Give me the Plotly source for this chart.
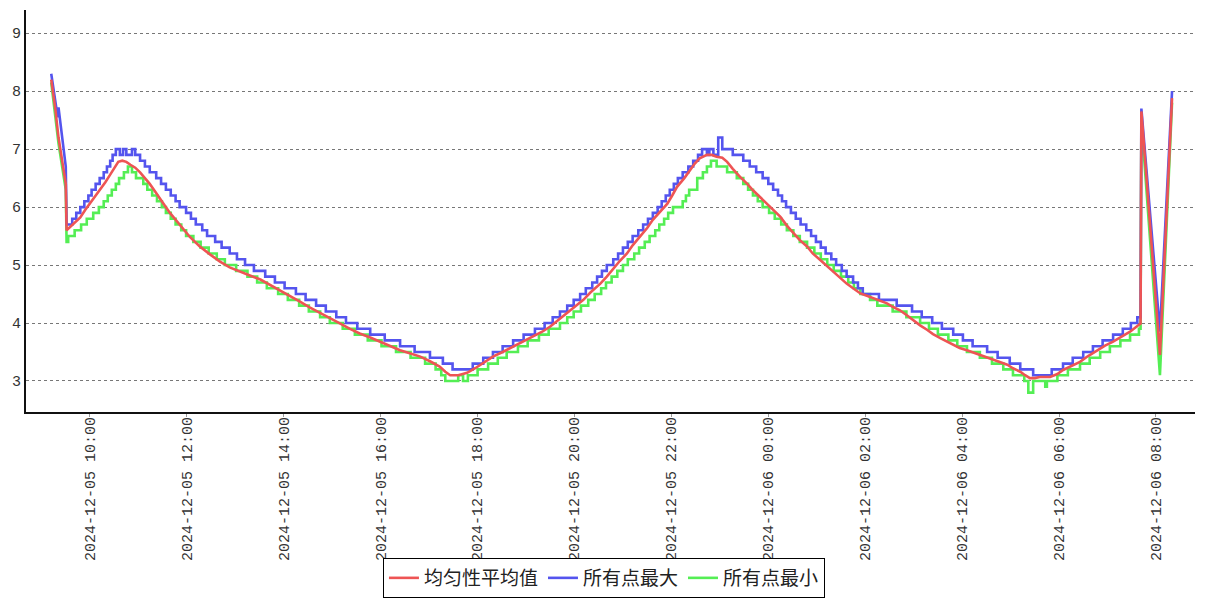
import pandas as pd
import plotly.graph_objects as go

BASE = pd.Timestamp("2024-12-05 10:00")  # minute offsets below are relative to this time

# ---------------- 所有点最大 (blue) ----------------
blue_head_t = [-48, -43, -40, -39, -32, -30]
blue_head_v = [8.3, 7.85, 7.55, 7.72, 6.9, 6.7]
blue_step_t = [-29, -22, -17, -12, -7, -2, 2, 7, 12, 17, 21, 25, 28, 32,
               37, 41, 45, 52,
               56, 62, 68, 74, 82, 88, 94, 100, 106, 111, 119, 125, 131, 139, 145, 155, 163, 173, 182, 192,
               203, 217, 229, 241, 255, 267, 280, 292, 305, 317, 331, 347, 365, 384, 402, 421, 437, 449,
               474, 487, 499, 511, 524, 537, 551, 563, 573, 582, 591, 599, 607, 614, 622, 628, 634, 640,
               648, 654, 660, 666, 672, 679, 685, 691, 697, 703, 708, 713, 718, 723, 728, 734, 741, 747, 753, 758,
               764, 767, 772, 778, 783,
               796, 809, 817, 825, 833, 840, 846, 852, 857, 862, 868, 874, 880, 887, 893, 899, 905, 911, 918, 924,
               931, 937, 945, 951, 957, 977, 999, 1018, 1030, 1043, 1055, 1069, 1081, 1093, 1111, 1124, 1139, 1152, 1168,
               1191, 1205, 1217, 1230, 1242, 1254, 1267, 1279, 1289, 1297]
blue_step_v = [5.7, 5.8, 5.9, 6.0, 6.1, 6.2, 6.3, 6.4, 6.5, 6.6, 6.7, 6.8, 6.9, 7.0,
               6.9, 7.0, 6.9, 7.0,
               6.9, 6.8, 6.7, 6.6, 6.5, 6.4, 6.3, 6.2, 6.1, 6.0, 5.9, 5.8, 5.7, 5.6, 5.5, 5.4, 5.3, 5.2, 5.1, 5.0,
               4.9, 4.8, 4.7, 4.6, 4.5, 4.4, 4.3, 4.2, 4.1, 4.0, 3.9, 3.8, 3.7, 3.6, 3.5, 3.4, 3.3, 3.2,
               3.3, 3.4, 3.5, 3.6, 3.7, 3.8, 3.9, 4.0, 4.1, 4.2, 4.3, 4.4, 4.5, 4.6, 4.7, 4.8, 4.9, 5.0,
               5.1, 5.2, 5.3, 5.4, 5.5, 5.6, 5.7, 5.8, 5.9, 6.0, 6.1, 6.2, 6.3, 6.4, 6.5, 6.6, 6.7, 6.8, 6.9, 7.0,
               6.9, 7.0, 6.9, 7.2, 7.0,
               6.9, 6.8, 6.7, 6.6, 6.5, 6.4, 6.3, 6.2, 6.1, 6.0, 5.9, 5.8, 5.7, 5.6, 5.5, 5.4, 5.3, 5.2, 5.1, 5.0,
               4.9, 4.8, 4.7, 4.6, 4.5, 4.4, 4.3, 4.2, 4.1, 4.0, 3.9, 3.8, 3.7, 3.6, 3.5, 3.4, 3.3, 3.2, 3.1,
               3.2, 3.3, 3.4, 3.5, 3.6, 3.7, 3.8, 3.9, 4.0, 4.1]
blue_tail_t = [1301, 1302, 1325, 1340]
blue_tail_v = [4.1, 7.7, 3.85, 8.0]

# ---------------- 所有点最小 (green) ----------------
green_head_t = [-48, -43, -39, -30]
green_head_v = [8.15, 7.6, 7.1, 6.3]
green_step_t = [-29, -27, -19, -11, -4, 4, 11, 17, 22, 27, 32, 36, 42, 47,
                52, 57, 66, 71, 77, 83, 89, 94, 100, 106, 113, 119, 128, 137, 147, 157, 167, 181, 195, 207,
                219, 233, 245, 259, 271, 285, 297, 313, 328, 344, 361, 379, 397, 415, 428, 435, 440, 456, 462, 468,
                480, 493, 505, 516, 530, 542, 556, 568, 582, 591, 599, 608, 617, 625, 633, 639, 646, 653,
                660, 666, 674, 680, 687, 693, 700, 705, 711, 716, 722, 734, 738, 742, 752, 759, 764, 769,
                776, 789, 801, 809, 815, 821, 827, 833, 841, 848, 856, 863, 871, 879, 888, 897, 905, 913, 921, 930,
                939, 946, 954, 966, 975, 994, 1011, 1028, 1039, 1050, 1063, 1074, 1086, 1102, 1117, 1131, 1143,
                1157, 1162, 1168, 1183, 1185,
                1198, 1211, 1226, 1238, 1251, 1263, 1276, 1288, 1299]
green_step_v = [5.4, 5.5, 5.6, 5.7, 5.8, 5.9, 6.0, 6.1, 6.2, 6.3, 6.4, 6.5, 6.6, 6.7,
                6.6, 6.5, 6.4, 6.3, 6.2, 6.1, 6.0, 5.9, 5.8, 5.7, 5.6, 5.5, 5.4, 5.3, 5.2, 5.1, 5.0, 4.9, 4.8, 4.7,
                4.6, 4.5, 4.4, 4.3, 4.2, 4.1, 4.0, 3.9, 3.8, 3.7, 3.6, 3.5, 3.4, 3.3, 3.2, 3.1, 3.0, 3.1, 3.0, 3.1,
                3.2, 3.3, 3.4, 3.5, 3.6, 3.7, 3.8, 3.9, 4.0, 4.1, 4.2, 4.3, 4.4, 4.5, 4.6, 4.7, 4.8, 4.9,
                5.0, 5.1, 5.2, 5.3, 5.4, 5.5, 5.6, 5.7, 5.8, 5.9, 6.0, 6.1, 6.2, 6.3, 6.5, 6.6, 6.7, 6.8,
                6.7, 6.6, 6.5, 6.4, 6.3, 6.2, 6.1, 6.0, 5.9, 5.8, 5.7, 5.6, 5.5, 5.4, 5.3, 5.2, 5.1, 5.0, 4.9, 4.8,
                4.7, 4.6, 4.5, 4.4, 4.3, 4.2, 4.1, 4.0, 3.9, 3.8, 3.7, 3.6, 3.5, 3.4, 3.3, 3.2, 3.1,
                3.0, 2.8, 3.0, 2.9, 3.0,
                3.1, 3.2, 3.3, 3.4, 3.5, 3.6, 3.7, 3.8, 3.9]
green_tail_t = [1301, 1302, 1325, 1340]
green_tail_v = [3.9, 7.5, 3.1, 7.8]

# ---------------- 均匀性平均值 (red) ----------------
red_t = [-48, -43, -39, -34, -30, -29,
         -25, -19, -12, -6, 0, 6, 12, 19, 25, 31, 35, 40, 45, 50,
         56, 62, 68, 74, 80, 87, 93, 99, 105, 111, 118, 124, 130, 136,
         149, 161, 173, 186, 198, 211, 223, 235, 248, 260,
         272, 285, 297, 310, 322, 334, 347, 359, 372, 384,
         396, 409, 421, 433, 440, 446, 456, 467, 477, 489,
         499, 511, 524, 536, 549, 560, 570, 580, 591, 601,
         611, 620, 632, 640, 648, 656, 665, 672, 681, 690,
         697, 706, 715, 721, 727, 736, 743, 749, 755, 764,
         770, 776, 783, 789, 796, 805, 814, 821, 830, 838,
         846, 855, 863, 871, 879, 888, 895, 904, 913, 920,
         929, 937, 945, 954, 962, 970, 978, 987, 994, 1003,
         1012, 1019, 1028, 1037, 1044, 1053, 1061, 1069, 1077, 1086,
         1094, 1102, 1111, 1118, 1127, 1136, 1143, 1152, 1158, 1164,
         1170, 1176, 1189, 1198, 1205, 1214, 1226, 1236, 1247, 1257,
         1267, 1277, 1288, 1297, 1301, 1302, 1325, 1340]
red_v = [8.2, 7.7, 7.2, 6.75, 6.4, 5.6,
         5.65, 5.72, 5.82, 5.95, 6.06, 6.18, 6.3, 6.43, 6.56, 6.7, 6.78, 6.8, 6.78, 6.73,
         6.68, 6.6, 6.5, 6.4, 6.28, 6.15, 6.02, 5.9, 5.8, 5.68, 5.58, 5.48, 5.4, 5.32,
         5.18, 5.06, 4.96, 4.88, 4.82, 4.75, 4.66, 4.57, 4.47, 4.37,
         4.27, 4.17, 4.08, 3.99, 3.9, 3.82, 3.75, 3.68, 3.6, 3.53,
         3.48, 3.42, 3.34, 3.25, 3.16, 3.1, 3.1, 3.14, 3.22, 3.33,
         3.42, 3.5, 3.59, 3.67, 3.76, 3.85, 3.94, 4.05, 4.17, 4.28,
         4.4, 4.53, 4.68, 4.8, 4.94, 5.07, 5.2, 5.34, 5.49, 5.64,
         5.78, 5.92, 6.06, 6.2, 6.35, 6.5, 6.64, 6.75, 6.84, 6.9,
         6.9, 6.87, 6.85, 6.78, 6.66, 6.52, 6.4, 6.29, 6.17, 6.06,
         5.95, 5.83, 5.68, 5.55, 5.43, 5.32, 5.2, 5.09, 4.98, 4.88,
         4.78, 4.68, 4.6, 4.51, 4.47, 4.43, 4.38, 4.34, 4.28, 4.22,
         4.13, 4.05, 3.96, 3.88, 3.81, 3.74, 3.68, 3.62, 3.57, 3.53,
         3.49, 3.45, 3.4, 3.36, 3.32, 3.28, 3.22, 3.16, 3.1, 3.05,
         3.05, 3.07, 3.07, 3.12, 3.19, 3.25, 3.33, 3.43, 3.53, 3.61,
         3.68, 3.76, 3.85, 3.95, 3.99, 7.65, 3.45, 7.88]

series_names = ["均匀性平均值", "所有点最大", "所有点最小"]
colors = ["rgb(238,84,84)", "rgb(84,84,238)", "rgb(84,238,84)"]
x_range = ["2024-12-05 08:40:45", "2024-12-06 08:48:25"]
y_range = [2.465, 9.40]

assert len(blue_step_t) == len(blue_step_v)
assert len(green_step_t) == len(green_step_v)
assert len(red_t) == len(red_v)


def stairs(head_t, head_v, step_t, step_v, tail_t, tail_v):
    """Sampled readings held until the next change (step-wise record)."""
    t, v = list(head_t), list(head_v)
    for i, (ti, vi) in enumerate(zip(step_t, step_v)):
        nxt = step_t[i + 1] if i + 1 < len(step_t) else tail_t[0]
        t += [ti, nxt]
        v += [vi, vi]
    t += list(tail_t)
    v += list(tail_v)
    return t, v


def to_time(mins):
    return BASE + pd.to_timedelta(mins, unit="m")


bt, bv = stairs(blue_head_t, blue_head_v, blue_step_t, blue_step_v, blue_tail_t, blue_tail_v)
gt, gv = stairs(green_head_t, green_head_v, green_step_t, green_step_v, green_tail_t, green_tail_v)

fig = go.Figure()
fig.add_trace(go.Scatter(x=to_time(gt), y=gv, mode="lines", name=series_names[2],
                         line=dict(color=colors[2], width=2.6), legendrank=3))
fig.add_trace(go.Scatter(x=to_time(bt), y=bv, mode="lines", name=series_names[1],
                         line=dict(color=colors[1], width=2.6), legendrank=2))
fig.add_trace(go.Scatter(x=to_time(red_t), y=red_v, mode="lines", name=series_names[0],
                         line=dict(color=colors[0], width=2.6), legendrank=1))

tick_font = dict(family="Liberation Mono, DejaVu Sans Mono, monospace", size=15, color="#333")

fig.update_layout(
    width=1207, height=600,
    margin=dict(l=26, r=12, t=10, b=188, autoexpand=False),
    paper_bgcolor="white", plot_bgcolor="white",
    showlegend=True,
    legend=dict(orientation="h", xref="paper", yref="paper",
                x=0.4944, xanchor="center", y=-0.4627, yanchor="bottom",
                font=dict(family="Noto Sans CJK SC", size=19, color="#222"),
                bordercolor="#000", borderwidth=1, bgcolor="white",
                itemwidth=30, tracegroupgap=0),
    xaxis=dict(type="date", range=x_range, showgrid=False, zeroline=False, automargin=False,
               showline=True, linecolor="#111", linewidth=2,
               ticks="outside", ticklen=3, tickcolor="#999", ticklabelstandoff=-6,
               tick0="2024-12-05 10:00", dtick=2 * 3600 * 1000,
               tickformat="%Y-%m-%d %H:%M", tickangle=-90, tickfont=tick_font),
    yaxis=dict(range=y_range, showgrid=True, gridcolor="#777", griddash="dot", gridwidth=1,
               zeroline=False, showline=True, linecolor="#111", linewidth=2, automargin=False,
               ticks="", tick0=0, dtick=1, tickfont=tick_font),
)

fig.write_html("out.html", config={"displayModeBar": False},
               post_script="document.body.style.margin='0';")
